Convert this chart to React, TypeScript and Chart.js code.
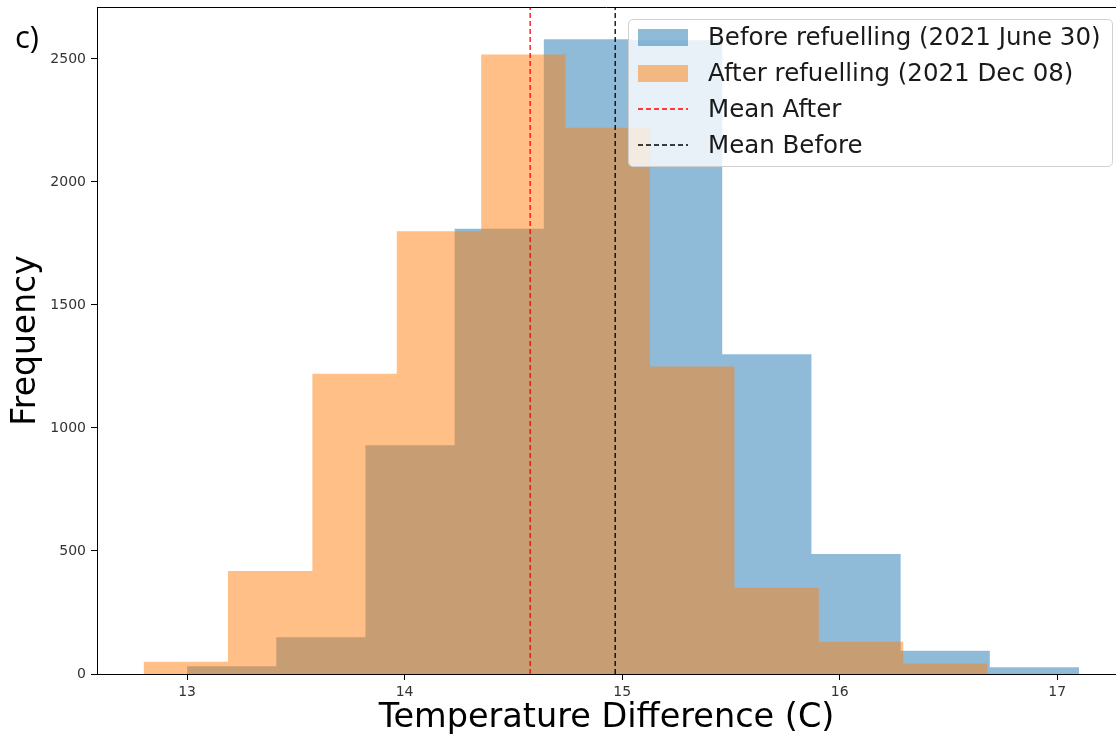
import React, { useEffect, useRef } from "react";
import { Chart, registerables } from "chart.js";

Chart.register(...registerables);

// ---- Data ----
const blueEdges = [13.0, 13.41, 13.82, 14.23, 14.64, 15.05, 15.46, 15.87, 16.28, 16.69, 17.1];
const blueCounts = [32, 149, 930, 1810, 2580, 2576, 1300, 488, 95, 27];
const orangeEdges = [12.8, 13.188, 13.576, 13.964, 14.352, 14.74, 15.128, 15.516, 15.904, 16.292, 16.68];
const orangeCounts = [50, 419, 1220, 1800, 2518, 2220, 1250, 351, 131, 43];
const meanAfter = 14.577;
const meanBefore = 14.968;
const xTicks = [13, 14, 15, 16, 17];
const yTicks = [0, 500, 1000, 1500, 2000, 2500];
const xRange = [12.586, 17.27];
const yRange = [0, 2711];
const seriesLabels = ["Before refuelling (2021 June 30)", "After refuelling (2021 Dec 08)"];
const meanLabels = ["Mean After", "Mean Before"];
const xTitle = "Temperature Difference (C)";
const yTitle = "Frequency";
const panelLabel = "c)";

const BLUE_FILL = "rgba(31,119,180,0.5)";
const ORANGE_FILL = "rgba(255,127,14,0.5)";
const FONT = '"DejaVu Sans", sans-serif';

function histPoints(edges: number[], counts: number[]) {
  const pts = [{ x: edges[0], y: 0 }];
  counts.forEach((c, i) => pts.push({ x: edges[i], y: c }));
  pts.push({ x: edges[edges.length - 1], y: 0 });
  return pts;
}

const decorPlugin = {
  id: "decor",
  afterDraw(chart: any) {
    const { ctx, chartArea } = chart;
    ctx.save();
    // top spine
    ctx.strokeStyle = "#000";
    ctx.lineWidth = 1;
    ctx.setLineDash([]);
    ctx.beginPath();
    ctx.moveTo(chartArea.left, Math.round(chartArea.top) + 0.5);
    ctx.lineTo(chartArea.right, Math.round(chartArea.top) + 0.5);
    ctx.stroke();

    // legend box
    const lx = 628.5, ly = 19.5, lw = 484, lh = 147, r = 5;
    ctx.beginPath();
    ctx.moveTo(lx + r, ly);
    ctx.lineTo(lx + lw - r, ly);
    ctx.quadraticCurveTo(lx + lw, ly, lx + lw, ly + r);
    ctx.lineTo(lx + lw, ly + lh - r);
    ctx.quadraticCurveTo(lx + lw, ly + lh, lx + lw - r, ly + lh);
    ctx.lineTo(lx + r, ly + lh);
    ctx.quadraticCurveTo(lx, ly + lh, lx, ly + lh - r);
    ctx.lineTo(lx, ly + r);
    ctx.quadraticCurveTo(lx, ly, lx + r, ly);
    ctx.closePath();
    ctx.fillStyle = "rgba(255,255,255,0.8)";
    ctx.fill();
    ctx.strokeStyle = "#d0d0d0";
    ctx.lineWidth = 1;
    ctx.stroke();

    const rows = [...seriesLabels, ...meanLabels];
    const fills = [BLUE_FILL, ORANGE_FILL];
    const lineColors = ["#ff0000", "#000000"];
    const px = 638, pw = 50, ph = 17;
    const textX = 708;
    ctx.font = `24.5px ${FONT}`;
    ctx.textBaseline = "middle";
    ctx.textAlign = "left";
    rows.forEach((label, i) => {
      const cy = 37.5 + i * 35.9;
      if (i < 2) {
        ctx.fillStyle = fills[i];
        ctx.fillRect(px, Math.round(cy - ph / 2), pw, ph);
      } else {
        ctx.strokeStyle = lineColors[i - 2];
        ctx.lineWidth = 1.6;
        ctx.setLineDash([5, 3]);
        ctx.beginPath();
        ctx.moveTo(px, Math.round(cy));
        ctx.lineTo(px + pw, Math.round(cy));
        ctx.stroke();
        ctx.setLineDash([]);
      }
      ctx.fillStyle = "#1a1a1a";
      ctx.fillText(label, textX, cy + 1);
    });

    // panel label
    ctx.font = '31px "Open Sans", sans-serif';
    ctx.fillStyle = "#000";
    ctx.textBaseline = "alphabetic";
    ctx.fillText(panelLabel, 15, 48);
    ctx.restore();
  },
};

export default function App() {
  const ref = useRef<HTMLCanvasElement>(null);
  useEffect(() => {
    if (!ref.current) return;
    const chart = new Chart(ref.current, {
      type: "line",
      data: {
        datasets: [
          {
            label: seriesLabels[0],
            data: histPoints(blueEdges, blueCounts),
            stepped: true,
            fill: "origin",
            backgroundColor: BLUE_FILL,
            borderColor: "transparent",
            borderWidth: 0,
            pointRadius: 0,
            order: 3,
          },
          {
            label: seriesLabels[1],
            data: histPoints(orangeEdges, orangeCounts),
            stepped: true,
            fill: "origin",
            backgroundColor: ORANGE_FILL,
            borderColor: "transparent",
            borderWidth: 0,
            pointRadius: 0,
            order: 2,
          },
          {
            label: meanLabels[0],
            data: [
              { x: meanAfter, y: yRange[0] },
              { x: meanAfter, y: yRange[1] },
            ],
            borderColor: "#ff0000",
            borderWidth: 1.3,
            borderDash: [5, 3],
            pointRadius: 0,
            fill: false,
            order: 1,
          },
          {
            label: meanLabels[1],
            data: [
              { x: meanBefore, y: yRange[0] },
              { x: meanBefore, y: yRange[1] },
            ],
            borderColor: "#000000",
            borderWidth: 1.3,
            borderDash: [5, 3],
            pointRadius: 0,
            fill: false,
            order: 0,
          },
        ],
      },
      options: {
        animation: false,
        responsive: false,
        devicePixelRatio: 1,
        layout: { padding: { left: 0, top: 7, right: 0, bottom: 0 } },
        plugins: {
          legend: { display: false },
          tooltip: { enabled: false },
        },
        scales: {
          x: {
            type: "linear",
            min: xRange[0],
            max: xRange[1],
            afterBuildTicks: (scale: any) => {
              scale.ticks = xTicks.map((v) => ({ value: v }));
            },
            afterFit: (scale: any) => {
              scale.height = 64;
              scale.paddingLeft = 0;
              scale.paddingRight = 0;
            },
            grid: {
              drawOnChartArea: false,
              drawTicks: true,
              tickLength: 6,
              color: "#000",
            },
            border: { display: true, color: "#000", width: 1 },
            ticks: {
              font: { family: FONT, size: 14 },
              color: "#333",
              padding: 4,
              maxRotation: 0,
              callback: (v: any) => String(v),
            },
            title: {
              display: true,
              text: xTitle,
              font: { family: FONT, size: 33.5 },
              color: "#000",
              padding: { top: 0, bottom: 0 },
            },
          },
          y: {
            type: "linear",
            min: yRange[0],
            max: yRange[1],
            afterBuildTicks: (scale: any) => {
              scale.ticks = yTicks.map((v) => ({ value: v }));
            },
            afterFit: (scale: any) => {
              scale.width = 97;
              scale.paddingTop = 0;
              scale.paddingBottom = 0;
            },
            grid: {
              drawOnChartArea: false,
              drawTicks: true,
              tickLength: 6,
              color: "#000",
            },
            border: { display: true, color: "#000", width: 1 },
            ticks: {
              font: { family: FONT, size: 14 },
              color: "#333",
              padding: 5,
              callback: (v: any) => String(v),
            },
            title: {
              display: true,
              text: yTitle,
              font: { family: FONT, size: 33 },
              color: "#000",
              padding: { top: 7, bottom: 0 },
            },
          },
        },
      },
      plugins: [decorPlugin],
    });
    return () => chart.destroy();
  }, []);

  return (
    <div style={{ position: "absolute", left: 0, top: 0, width: 1116, height: 738, background: "#fff" }}>
      <canvas ref={ref} width={1116} height={738} style={{ display: "block" }} />
    </div>
  );
}
